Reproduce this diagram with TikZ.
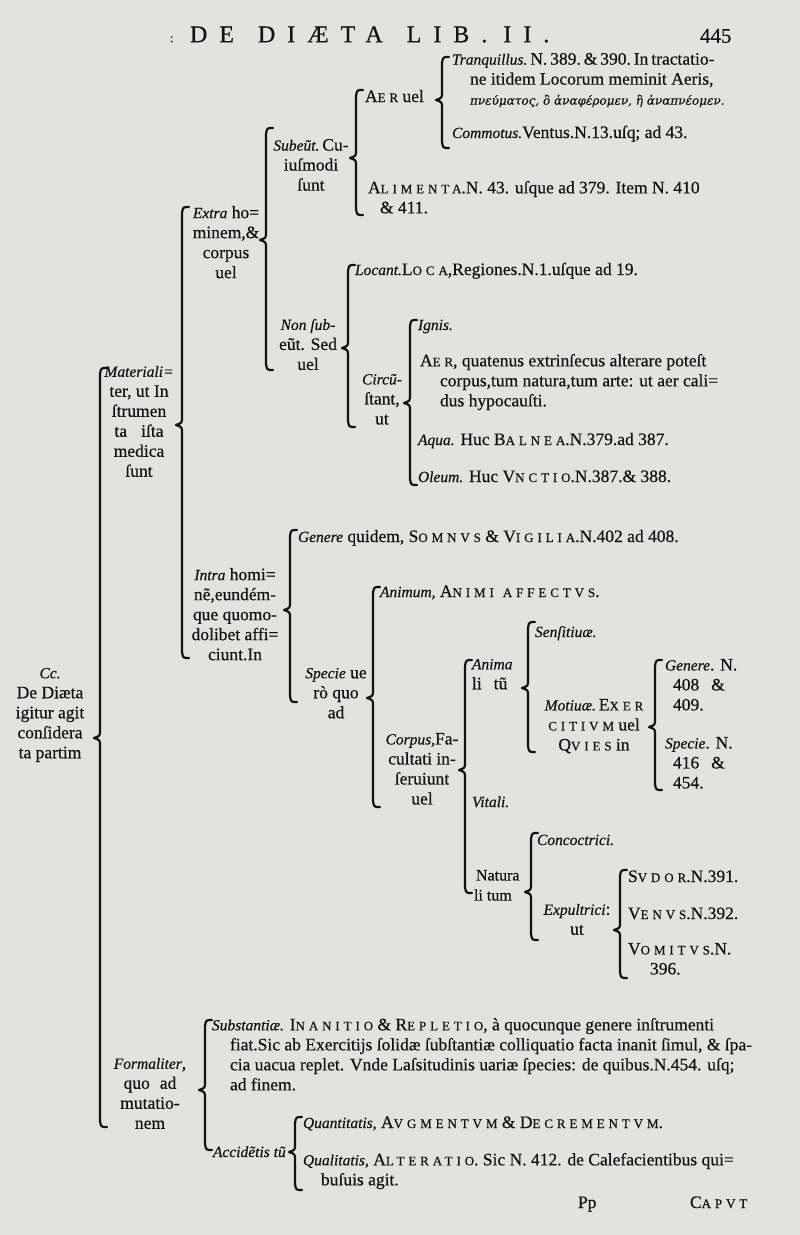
\documentclass[tikz,border=0pt]{standalone}
\usepackage{fontspec}
\setmainfont{Liberation Serif}[FakeBold=0.45]
\newfontfamily\grk{DejaVu Serif}[FakeBold=0.3]
\definecolor{paper}{RGB}{226,226,224}
\definecolor{ink}{RGB}{18,18,18}
\newcommand\fs{\fontsize{17.5}{20}\selectfont}
\newcommand\SC[2]{#1{\fontsize{13}{20}\selectfont\addfontfeature{LetterSpace=30}#2}}
\newcommand\I[1]{{\fontsize{15.5}{20}\selectfont\itshape #1}}
\newcommand\brc[4]{\draw[brace] (#1+7,#2) .. controls (#1+1,#2) .. (#1,#2+6) -- (#1,#3-8) .. controls (#1,#3-2) .. (#1-6,#3) .. controls (#1,#3+2) .. (#1,#3+8) -- (#1,#4-6) .. controls (#1+1,#4) .. (#1+7,#4);}
\tikzset{
  lab/.style={inner sep=0pt, outer sep=0pt, anchor=north west, align=left, font=\fs, text=ink, execute at begin node=\strut},
  labc/.style={lab, anchor=north, align=center},
  brace/.style={draw=ink, line width=2.2pt, line join=round, line cap=round}
}
\begin{document}
\begin{tikzpicture}[x=1pt,y=-1pt]
\fill[paper] (0,0) rectangle (800,1235);
\useasboundingbox (0,0) rectangle (800,1235);
% header
\node[lab, font=\fontsize{24}{26}\selectfont\addfontfeature{LetterSpace=50}] (title) at (190,24) {DE\hspace{24pt}DIÆTA\hspace{24pt}LIB.\hspace{16pt}II.};
\node[lab, font=\fontsize{12}{20}\selectfont] (dots) at (170,28) {:};
\node[lab, font=\fontsize{21}{24}\selectfont] (page) at (700,26) {445};
% ---- Extra hominem branch
\node[lab] (tranq) at (452,53) {\I{Tranquillus.}\,N.\,389.\,\&\,390.\,In\,tractatio-\\\hspace*{18pt}ne itidem Locorum meminit Aeris,\\\hspace*{18pt}{\grk\itshape\fontsize{12}{20}\selectfont πνεύματος, ὃ ἀναφέρομεν, ἢ ἀναπνέομεν.}};
\node[lab] (commo) at (452,124) {\I{Commotus.}Ventus.N.13.uſq; ad 43.};
\node[lab] (aer) at (365,88) {\SC{A}{ER} uel};
\node[lab] (alim) at (368,181) {\SC{A}{LIMENTA}.N. 43. uſque ad 379. Item N. 410\\\hspace*{12pt}\& 411.};
\node[labc] (subeunt) at (311,139) {\I{Subeũt.}\,Cu-\\iuſmodi\\ſunt};
\node[labc] (extra) at (226,206) {\I{Extra} ho=\\minem,\&\\corpus\\uel};
\node[lab] (locant) at (355,261) {\I{Locant.}\SC{L}{OCA},Regiones.N.1.uſque ad 19.};
\node[labc] (nonsub) at (308,319) {\I{Non ſub-}\\eũt. Sed\\uel};
\node[lab] (ignis) at (418,316) {\I{Ignis.}};
\node[lab] (aerq) at (420,354) {\SC{A}{ER}, quatenus extrinſecus alterare poteſt\\\hspace*{20pt}corpus,tum natura,tum arte: ut aer cali=\\\hspace*{20pt}dus hypocauſti.};
\node[labc] (circ) at (382,374) {\I{Circũ-}\\ſtant,\\ut};
\node[lab] (aqua) at (418,431) {\I{Aqua.} Huc \SC{B}{ALNEA}.N.379.ad 387.};
\node[lab] (oleum) at (418,468) {\I{Oleum.} Huc \SC{V}{NCTIO}.N.387.\& 388.};
\node[labc] (mater) at (139,366) {\I{Materiali=}\\ter, ut In\\ſtrumen\\ta\hspace{14pt}iſta\\medica\\ſunt};
% ---- Intra hominem branch
\node[lab] (somnus) at (298,528) {\I{Genere} quidem, \SC{S}{OMNVS} \& \SC{V}{IGILIA}.N.402 ad 408.};
\node[labc] (intra) at (235,568) {\I{Intra} homi=\\nẽ,eundém-\\que quomo-\\dolibet affi=\\ciunt.In};
\node[lab] (animum) at (380,583) {\I{Animum,} \SC{A}{NIMI}\hspace{9pt}\SC{}{AFFECTVS}.};
\node[lab] (sensit) at (535,623) {\I{Senſitiuæ.}};
\node[lab] (anima) at (472,659) {\I{Anima}\\li\hspace{12pt}tũ};
\node[lab] (genere) at (665,659) {\I{Genere}. N.\\\hspace*{8pt}408\hspace{12pt}\&\\\hspace*{8pt}409.};
\node[lab] (specieN) at (665,737) {\I{Specie}. N.\\\hspace*{8pt}416\hspace{12pt}\&\\\hspace*{8pt}454.};
\node[labc] (specie) at (336,668) {\I{Specie} ue\\rò quo\\ad};
\node[labc] (motiu) at (594,699) {\I{Motiuæ.}\,\SC{E}{XER}\\\SC{}{CITIVM} uel\\\SC{Q}{VIES} in};
\node[labc] (root) at (50,668) {\I{Cc.}\\De Diæta\\igitur agit\\conſidera\\ta partim};
\node[labc] (corpus) at (422,733) {\I{Corpus,}Fa-\\cultati in-\\ſeruiunt\\uel};
\node[lab] (vitali) at (472,793) {\I{Vitali.}};
\node[lab] (concoc) at (537,831) {\I{Concoctrici.}};
\node[lab, font=\fontsize{16}{20}\selectfont] (natura) at (474,870) {\hspace*{2pt}Natura\\li tum};
\node[lab] (sudor) at (628,868) {\SC{S}{VDOR}.N.391.};
\node[labc] (expul) at (577,904) {\I{Expultrici}:\\ut};
\node[lab] (venus) at (628,905) {\SC{V}{ENVS}.N.392.};
\node[lab] (vomit) at (628,943) {\SC{V}{OMITVS}.N.\\\hspace*{22pt}396.};
% ---- Formaliter branch
\node[lab] (subst) at (212,1018) {\I{Substantiæ.} \SC{I}{NANITIO} \& \SC{R}{EPLETIO}, à quocunque genere inſtrumenti\\\hspace*{18pt}fiat.Sic ab Exercitijs ſolidæ ſubſtantiæ colliquatio facta inanit ſimul, \& ſpa-\\\hspace*{18pt}cia uacua replet. Vnde Laſsitudinis uariæ ſpecies: de quibus.N.454. uſq;\\\hspace*{18pt}ad finem.};
\node[labc] (formal) at (150,1058) {\I{Formaliter},\\quo\hspace{10pt}ad\\mutatio-\\nem};
\node[lab] (quant) at (303,1114) {\I{Quantitatis,} \SC{A}{VGMENTVM} \& \SC{D}{ECREMENTVM}.};
\node[lab] (accid) at (213,1143) {\I{Accidẽtis tũ}};
\node[lab] (qualit) at (303,1153) {\I{Qualitatis,} \SC{A}{LTERATIO}. Sic N. 412. de Calefacientibus qui=\\\hspace*{18pt}buſuis agit.};
\node[lab] (pp) at (578,1194) {Pp};
\node[lab] (caput) at (690,1194) {\SC{C}{APVT}};
% ---- braces
\brc{100}{368}{738}{1127}
\brc{182}{207}{425}{658}
\brc{266}{128}{240}{370}
\brc{356}{90}{158}{215}
\brc{442}{57}{100}{148}
\brc{348}{265}{348}{427}
\brc{410}{320}{403}{485}
\brc{290}{530}{610}{702}
\brc{373}{587}{698}{807}
\brc{465}{660}{770}{893}
\brc{528}{622}{688}{752}
\brc{655}{660}{727}{790}
\brc{531}{833}{892}{940}
\brc{620}{870}{930}{978}
\brc{205}{1020}{1090}{1150}
\brc{295}{1117}{1152}{1190}
\end{tikzpicture}
\end{document}
